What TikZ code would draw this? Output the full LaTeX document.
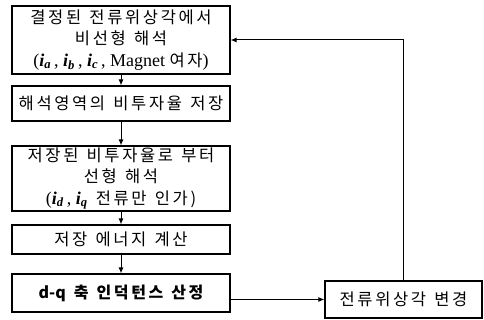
\documentclass[tikz,border=0pt]{standalone}
\usepackage{fontspec}
\setmainfont{Liberation Serif}
\newfontfamily\kr[LetterSpace=16,WordSpace=1.3]{Noto Sans CJK KR}
\newfontfamily\krplain{Noto Sans CJK KR}
\usetikzlibrary{arrows.meta}
\newcommand{\bi}[2]{\textbf{\textit{#1}}\textsubscript{\textbf{\textit{#2}}}}
\begin{document}
\begin{tikzpicture}[x=1pt,y=-1pt,
  box/.style={draw, line width=1.1pt, inner sep=0pt, align=center,
    font=\kr\fontsize{16.5}{21.5}\selectfont},
  arr/.style={line width=1pt,-{Latex[length=6pt,width=5pt]}}]
\useasboundingbox (0,0) rectangle (484,320);
\node[box, minimum width=218, minimum height=68] (b1) at (121,40)
  {결정된 전류위상각에서\\비선형 해석\\{\rmfamily\fontsize{18}{21.5}\selectfont(\bi{i}{a}\,, \bi{i}{b}\,, \bi{i}{c}\,, Magnet {\kr\fontsize{16.5}{21.5}\selectfont 여자})}};
\node[box, minimum width=218, minimum height=35] (b2) at (121,103.5)
  {해석영역의 비투자율 저장};
\node[box, minimum width=218, minimum height=65] (b3) at (121,178.5)
  {저장된 비투자율로 부터\\선형 해석\\{\rmfamily\fontsize{18}{21.5}\selectfont(\bi{i}{d}\,, \bi{i}{q}} 전류만 인가)};
\node[box, minimum width=218, minimum height=29] (b4) at (121,239.5)
  {저장 에너지 계산};
\node[box, minimum width=218, minimum height=38, font=\kr\bfseries\fontsize{16}{21.5}\selectfont] (b5) at (121,293)
  {{\krplain\bfseries d-q} 축 인덕턴스 산정};
\node[box, minimum width=157, minimum height=37] (b6) at (403.5,299.5)
  {전류위상각 변경};
\draw[arr] (b1) -- (b2);
\draw[arr] (b2) -- (b3);
\draw[arr] (b3) -- (b4);
\draw[arr] (b4) -- (b5);
\draw[arr] (b5.east |- b6.west) -- (b6.west);
\draw[arr] (b6.north) |- (b1.east);
\end{tikzpicture}
\end{document}
